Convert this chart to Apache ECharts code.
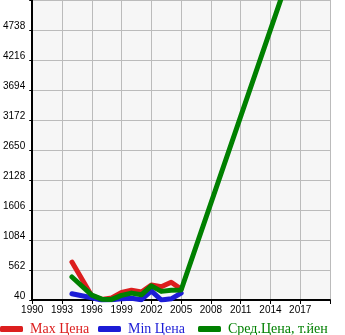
<!DOCTYPE html>
<html><head><meta charset="utf-8">
<script src="https://cdn.jsdelivr.net/npm/echarts@6/dist/echarts.min.js"></script>
<style>html,body{margin:0;padding:0;background:#fff}#c{width:345px;height:335px}</style>
</head><body><div id="c"></div>
<script>
const seriesNames = ['Max Цена', 'Min Цена', 'Сред.Цена, т.йен'];
const maxYears = [1994, 1996, 1997, 1998, 1999, 2000, 2001, 2002, 2003, 2004, 2005];
const maxValues = [700, 110, 50, 75, 170, 210, 180, 300, 270, 350, 230];
const minYears = [1994, 1996, 1997, 1998, 1999, 2000, 2001, 2002, 2003, 2004, 2005];
const minValues = [150, 80, 40, 45, 60, 70, 45, 200, 40, 60, 160];
const avgYears = [1994, 1996, 1997, 1998, 1999, 2000, 2001, 2002, 2003, 2004, 2005, 2016];
const avgValues = [440, 125, 55, 50, 120, 160, 130, 285, 190, 210, 214, 5750];
const yTicks = [40, 562, 1084, 1606, 2128, 2650, 3172, 3694, 4216, 4738, 5260];
const yLabels = [40, 562, 1084, 1606, 2128, 2650, 3172, 3694, 4216, 4738];
const xTicks = [1990, 1993, 1996, 1999, 2002, 2005, 2008, 2011, 2014, 2017, 2020];
const xLabels = [1990, 1993, 1996, 1999, 2002, 2005, 2008, 2011, 2014, 2017];
const colors = ['#dc1e1e', '#1c1cd6', '#008000'];

const pairs = (xs, ys) => xs.map((x, i) => [x, ys[i]]);
const chart = echarts.init(document.getElementById('c'), null, {renderer: 'canvas'});
const mkLegend = (i, left) => ({
  data: [seriesNames[i]], left: left, top: 322, padding: 0,
  itemWidth: 23, itemHeight: 6, icon: 'roundRect', itemGap: 0,
  textStyle: {fontFamily: 'Liberation Serif', fontSize: 14, color: colors[i], padding: [0, 0, 0, 2]}
});
chart.setOption({
  animation: false,
  color: colors,
  grid: {left: 31, right: 15, top: 0, bottom: 35, show: true, backgroundColor: '#f6f6f6', borderWidth: 0},
  legend: [mkLegend(0, 0), mkLegend(1, 98), mkLegend(2, 198)],
  xAxis: {
    type: 'value', min: 1990, max: 2020,
    axisLine: {lineStyle: {color: '#000', width: 2}},
    axisTick: {show: true, length: 4, lineStyle: {color: '#000'}, customValues: xTicks},
    axisLabel: {customValues: xLabels, formatter: v => String(v), color: '#000', fontFamily: 'Liberation Sans', fontSize: 10, margin: 5},
    splitLine: {show: true, lineStyle: {color: '#bbbbbb', width: 1}}
  },
  yAxis: {
    type: 'value', min: 40, max: 5260,
    axisLine: {show: true, lineStyle: {color: '#000', width: 2}},
    axisTick: {show: true, length: 3, lineStyle: {color: '#000'}, customValues: yTicks},
    axisLabel: {customValues: yLabels, formatter: v => String(v), color: '#000', fontFamily: 'Liberation Sans', fontSize: 10, margin: 7, verticalAlign: 'bottom', lineHeight: 8},
    splitLine: {show: true, lineStyle: {color: '#bbbbbb', width: 1}}
  },
  series: [
    {name: seriesNames[0], type: 'line', data: pairs(maxYears, maxValues), showSymbol: false, symbol: 'none', lineStyle: {width: 5, cap: 'round', join: 'round'}},
    {name: seriesNames[1], type: 'line', data: pairs(minYears, minValues), showSymbol: false, symbol: 'none', lineStyle: {width: 5, cap: 'round', join: 'round'}},
    {name: seriesNames[2], type: 'line', data: pairs(avgYears, avgValues), showSymbol: false, symbol: 'none', lineStyle: {width: 5, cap: 'round', join: 'round'}}
  ]
});
</script></body></html>
